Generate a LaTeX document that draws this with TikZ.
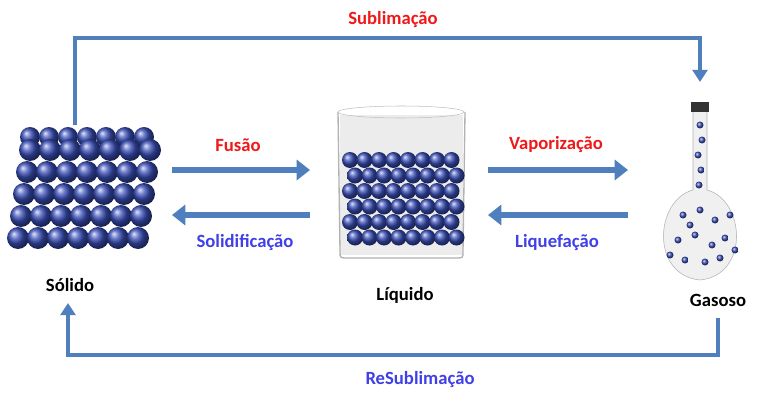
\documentclass[tikz,border=0pt]{standalone}
\usepackage{fontspec}
\setmainfont{Carlito}
\usetikzlibrary{arrows.meta}
\definecolor{arr}{HTML}{4F7FBD}
\definecolor{redt}{HTML}{F01818}
\definecolor{bluet}{HTML}{4040E8}
\definecolor{ballc}{HTML}{3A4FB8}
\begin{document}
\begin{tikzpicture}[x=0.75pt,y=-0.75pt,
  conn/.style={draw=arr,line width=3pt,-{Triangle[length=9pt,width=11pt]}},
  fat/.style={draw=arr,line width=5pt,-{Triangle[length=10pt,width=15pt]}},
  lbl/.style={font=\bfseries\fontsize{14}{16}\selectfont},
  ball/.style={ball color=ballc,draw=none}]
\useasboundingbox (0,0) rectangle (767,403);
\fill[white] (0,0) rectangle (767,403);
% solid cube
\node (solid) at (75,190) [minimum width=150,minimum height=130] {};
\foreach \c in {0,...,6}
  \shade[ball] ({30+\c*19},{137}) circle (10);
\foreach \r in {0,...,4} \foreach \c in {0,...,6}
  \shade[ball] ({18+\c*20+(4-\r)*3},{150+\r*22}) circle (11);
\node[lbl] (tsol) at (70,285) {Sólido};
% beaker
\node (liq) at (405,185) [minimum width=130,minimum height=150] {};
\fill[gray!15] (340,115) rectangle (463,255);
\draw[gray!60,line width=1pt] (338,112) -- (340,252) .. controls (340,258) .. (348,258) -- (455,258) .. controls (463,258) .. (463,252) -- (465,112);
\draw[gray!50] (401,112) ellipse (63 and 6);
\foreach \r in {0,...,5} \foreach \c in {0,...,7}
  \shade[ball] ({350+\c*14.5+mod(\r,2)*5},{160+\r*15.5}) circle (8);
\node[lbl] (tliq) at (405,295) {Líquido};
% flask
\node (gas) at (700,190) [minimum width=90,minimum height=180] {};
\fill[gray!12,draw=gray!60] (693,110) -- (693,190) .. controls (655,200) and (650,275) .. (700,280) .. controls (750,275) and (745,200) .. (707,190) -- (707,110) -- cycle;
\fill[black!80] (691,102) rectangle (709,112);
\foreach \p in {(700,125),(702,140),(698,155),(701,170),(699,185),(683,215),(700,210),(715,220),(678,240),(695,235),(712,245),(725,238),(685,260),(705,262),(720,258),(690,225),(730,215),(670,255),(735,250)}
  \shade[ball] \p circle (3.5);
\node[lbl] (tgas) at (718,300) {Gasoso};
% arrows
\coordinate (s1) at (75,38); \coordinate (s2) at (700,38);
\draw[conn] (75,125) -- (s1) -- (s2) -- (700,82);
\node[lbl,text=redt] (tsub) at (393,20) {Sublimação};
\coordinate (r1) at (718,355); \coordinate (r2) at (68,355);
\draw[conn] (718,318) -- (r1) -- (r2) -- (68,303);
\node[lbl,text=bluet] (tres) at (420,380) {ReSublimação};
\draw[fat] (172,170) -- (310,170);
\node[lbl,text=redt] (tfus) at (238,145) {Fusão};
\draw[fat] (310,215) -- (172,215);
\node[lbl,text=bluet] (tsoli) at (245,243) {Solidificação};
\draw[fat] (488,170) -- (628,170);
\node[lbl,text=redt] (tvap) at (556,145) {Vaporização};
\draw[fat] (628,215) -- (488,215);
\node[lbl,text=bluet] (tliqf) at (557,243) {Liquefação};
\end{tikzpicture}
\end{document}
